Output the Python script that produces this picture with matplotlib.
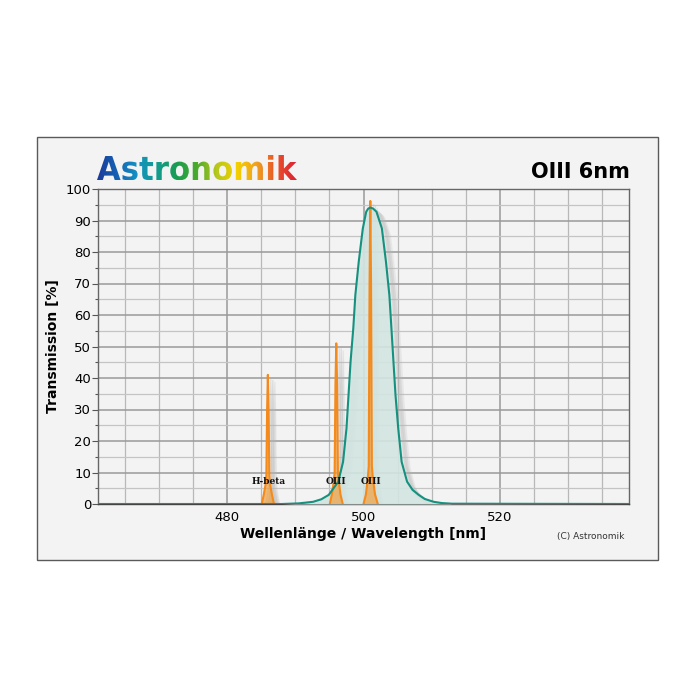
import matplotlib
matplotlib.use("Agg")
import matplotlib.pyplot as plt
import matplotlib.transforms as mtransforms
from matplotlib.patches import Rectangle, PathPatch
from matplotlib.textpath import TextPath
from matplotlib.font_manager import FontProperties
from matplotlib.colors import LinearSegmentedColormap
import numpy as np

# filter transmission curve (nm, %)
filter_nm = [460.0, 488.0, 490.5, 492.6, 493.8, 494.9, 496.3, 497.0, 497.5, 497.8,
             498.1, 498.5, 498.8, 499.3, 499.9, 500.4, 500.7, 501.0, 501.4, 501.9,
             502.7, 503.3, 503.8, 504.1, 504.4, 504.7, 505.1, 505.6, 506.4, 507.2,
             508.1, 509.0, 510.3, 511.5, 513.0, 540.0]
filter_pct = [0.0, 0.0, 0.2, 0.7, 1.5, 2.9, 7.1, 13.4, 24.0, 34.6,
              45.2, 55.8, 66.3, 76.9, 87.5, 92.8, 93.8, 94.1, 93.8, 92.8,
              87.5, 76.9, 66.3, 55.8, 45.2, 34.6, 24.0, 13.4, 7.1, 4.5,
              2.9, 1.6, 0.7, 0.3, 0.1, 0.0]

# emission lines
hbeta_nm = [485.05, 485.35, 485.6, 485.73, 485.84, 485.95, 486.06, 486.17, 486.3, 486.55, 486.85]
hbeta_pct = [0, 3, 6, 9, 30, 41, 30, 9, 6, 3, 0]
oiii1_nm = [495.05, 495.35, 495.62, 495.76, 495.88, 496.0, 496.12, 496.24, 496.38, 496.62, 496.95]
oiii1_pct = [0, 3, 7, 10, 38, 51, 38, 10, 7, 3, 0]
oiii2_nm = [500.0, 500.35, 500.62, 500.77, 500.89, 501.0, 501.11, 501.23, 501.38, 501.7, 502.1]
oiii2_pct = [0, 3, 8, 12, 70, 96.2, 70, 12, 8, 3, 0]

line_labels = ["H-beta", "OIII", "OIII"]
line_centers = [486.0, 496.0, 501.1]

x_ticks = [480, 500, 520]
y_ticks = list(range(0, 101, 10))

TEAL = "#14917f"
ORANGE = "#f48a1c"
BG = "#f3f3f3"

plt.rcParams["font.family"] = ["DejaVu Sans"]

fig = plt.figure(figsize=(7, 7), dpi=100)
fig.patch.set_facecolor("white")

# outer frame
frame = Rectangle((37 / 700, 1 - 560 / 700), (658 - 37) / 700, (560 - 137) / 700,
                  transform=fig.transFigure, facecolor=BG, edgecolor="#5a5a5a",
                  linewidth=1.0, zorder=-5)
fig.patches.append(frame)

ax = fig.add_axes([98 / 700, 1 - 504 / 700, (629 - 98) / 700, (504 - 189) / 700])
ax.set_facecolor(BG)
ax.set_xlim(461, 539)
ax.set_ylim(0, 100)

# grid
for v in np.arange(465, 539, 5):
    major = (v % 20 == 0)
    ax.axvline(v, color="#9a9a9a" if major else "#b8b8b8", lw=1.1 if major else 0.9, zorder=1)
for v in np.arange(5, 100, 5):
    major = (v % 10 == 0)
    ax.axhline(v, color="#9a9a9a" if major else "#c4c4c4", lw=1.1 if major else 0.9, zorder=1)

ax.set_xticks(x_ticks)
ax.set_yticks(y_ticks)
ax.set_yticks(np.arange(5, 100, 10), minor=True)
ax.tick_params(axis="y", direction="out", length=4, width=0.8, color="#555555",
               labelsize=9.5, pad=1)
ax.tick_params(axis="y", which="minor", length=2.5, width=0.8, color="#555555")
ax.tick_params(axis="x", length=0, labelsize=9.5, pad=5)
for s in ax.spines.values():
    s.set_color("#666666")
    s.set_linewidth(1.0)
ax.spines["bottom"].set_color("#444444")

# shadows offset to the lower right
def shadow(dx, dy):
    return ax.transData + mtransforms.ScaledTranslation(dx / 100, -dy / 100, fig.dpi_scale_trans)

for k, a in [(3, 0.25), (5, 0.3), (7, 0.2)]:
    ax.plot(filter_nm, filter_pct, color="#b5b5b5", lw=3, alpha=a, transform=shadow(k, k), zorder=2)
    for xs, ys in [(hbeta_nm, hbeta_pct), (oiii1_nm, oiii1_pct), (oiii2_nm, oiii2_pct)]:
        ax.fill(xs, ys, color="#b5b5b5", alpha=a, lw=1, transform=shadow(k, k), zorder=2)

# filter curve
ax.fill_between(filter_nm, filter_pct, color="#d3e5e1", alpha=0.9, zorder=3, lw=0)
ax.plot(filter_nm, filter_pct, color=TEAL, lw=1.5, zorder=6, solid_joinstyle="round")

# emission lines
for xs, ys in [(hbeta_nm, hbeta_pct), (oiii1_nm, oiii1_pct), (oiii2_nm, oiii2_pct)]:
    ax.fill(xs, ys, facecolor="#f0a040", alpha=0.7, lw=0, zorder=4)
    ax.plot(xs, ys, color=ORANGE, lw=1.5, zorder=5, solid_joinstyle="round")

for lab, c in zip(line_labels, line_centers):
    ax.text(c, 7.3, lab, ha="center", va="center", fontsize=6.5, fontweight="bold",
            family="DejaVu Serif", color="#111111", zorder=7)

ax.set_ylabel("Transmission [%]", fontsize=10, fontweight="bold", labelpad=4)
ax.set_xlabel("Wellenlänge / Wavelength [nm]", fontsize=10, fontweight="bold", labelpad=2)

fig.text(630 / 700, 1 - 172 / 700, "OIII 6nm", ha="right", va="center",
         fontsize=15, fontweight="bold")
fig.text(624 / 700, 1 - 536 / 700, "(C) Astronomik", ha="right", va="center",
         fontsize=6.5, color="#333333")

# rainbow logo
logo_ax = fig.add_axes([97 / 700, 1 - 180 / 700, 200 / 700, 25 / 700])
logo_ax.axis("off")
tp = TextPath((0, 0), "Astronomik", size=1, prop=FontProperties(family="DejaVu Sans", weight="bold"))
bb = tp.get_extents()
logo_ax.set_xlim(bb.x0, bb.x1)
logo_ax.set_ylim(0, bb.y1)
rainbow = LinearSegmentedColormap.from_list(
    "logo", ["#1c3a98", "#1462b4", "#1592c2", "#129b8e", "#199d50", "#4aab2b",
             "#b8c81a", "#f4d000", "#f0a020", "#e8502a", "#dc2035"])
grad = np.linspace(0, 1, 256).reshape(1, -1)
im = logo_ax.imshow(grad, cmap=rainbow, extent=(bb.x0, bb.x1, bb.y0, bb.y1), aspect="auto")
im.set_clip_path(PathPatch(tp, transform=logo_ax.transData))

fig.savefig("out.png", dpi=100)
